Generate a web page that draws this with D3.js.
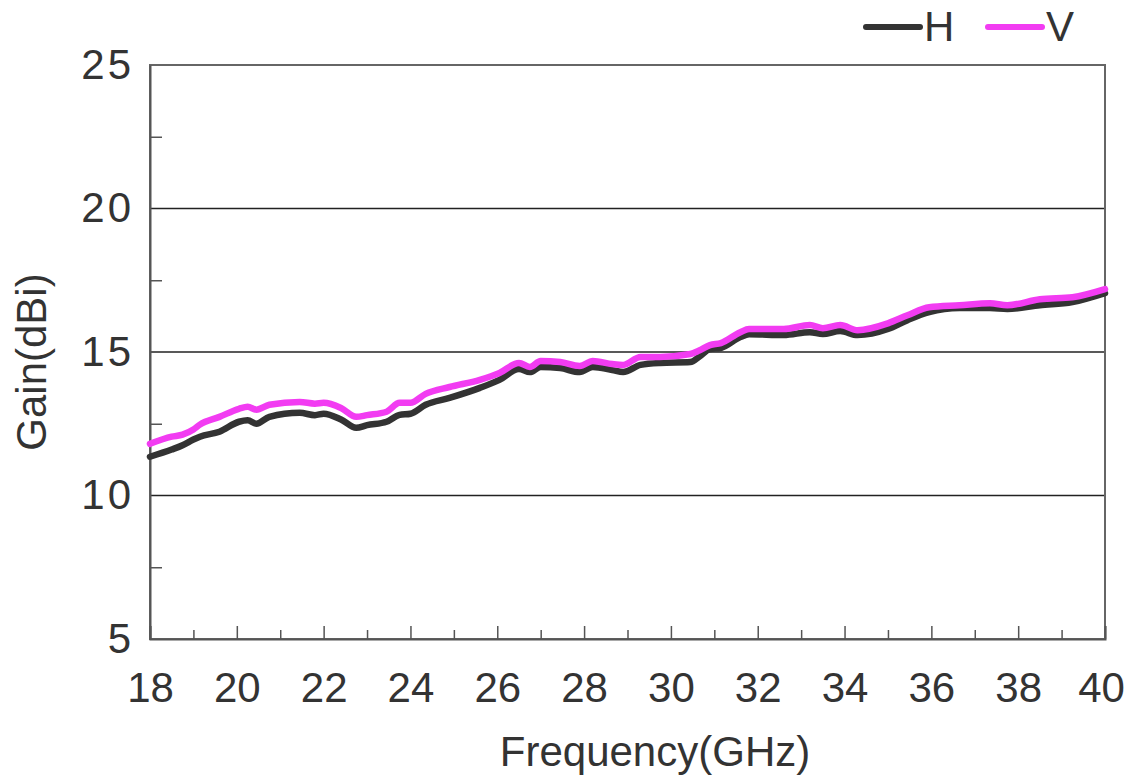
<!DOCTYPE html>
<html>
<head>
<meta charset="utf-8">
<title>Gain vs Frequency</title>
<script src="https://cdnjs.cloudflare.com/ajax/libs/d3/7.8.5/d3.min.js"></script>
<style>
  body { margin: 0; background: #fff; }
  svg text { font-family: "Liberation Sans", Arial, sans-serif; fill: #333; }
</style>
</head>
<body>
<div id="chart"></div>
<script>
// frequency (GHz) and gain (dBi)
const freq = [18.0, 18.5, 18.75, 19.0, 19.15, 19.6, 20.05, 20.25, 20.45, 20.75, 21.45, 21.8, 22.0, 22.4, 22.75,
  23.0, 23.45, 23.75, 24.0, 24.35, 24.9, 25.6, 26.05, 26.5, 26.75, 27.0, 27.45, 27.9, 28.2, 28.65, 28.9,
  29.3, 29.75, 30.45, 30.65, 30.9, 31.15, 31.6, 31.8, 32.6, 33.2, 33.5, 33.9, 34.3, 35.0, 35.45, 35.95,
  36.65, 37.35, 37.75, 38.5, 39.25, 40.0];
const gainH = [11.35, 11.6, 11.75, 11.95, 12.05, 12.22, 12.57, 12.62, 12.5, 12.74, 12.88, 12.8, 12.85, 12.65, 12.36,
  12.45, 12.57, 12.81, 12.85, 13.16, 13.4, 13.75, 14.03, 14.41, 14.3, 14.48, 14.44, 14.3, 14.48, 14.37, 14.3,
  14.55, 14.62, 14.65, 14.83, 15.1, 15.14, 15.52, 15.62, 15.59, 15.69, 15.63, 15.73, 15.59, 15.8, 16.11, 16.39,
  16.53, 16.53, 16.5, 16.63, 16.74, 17.05];
const gainV = [11.8, 12.05, 12.12, 12.3, 12.47, 12.74, 13.02, 13.09, 12.99, 13.16, 13.26, 13.2, 13.23, 13.05, 12.74,
  12.8, 12.92, 13.23, 13.23, 13.54, 13.78, 14.03, 14.27, 14.62, 14.48, 14.69, 14.65, 14.51, 14.69, 14.58, 14.55,
  14.83, 14.83, 14.93, 15.05, 15.24, 15.31, 15.69, 15.8, 15.8, 15.94, 15.83, 15.94, 15.76, 16.0, 16.28, 16.56,
  16.63, 16.7, 16.63, 16.84, 16.91, 17.19];
const xTicks = [18, 20, 22, 24, 26, 28, 30, 32, 34, 36, 38, 40];
const xMinor = [19, 21, 23, 25, 27, 29, 31, 33, 35, 37, 39];
const yTicks = [5, 10, 15, 20, 25];
const yMinor = [7.5, 12.5, 17.5, 22.5];
const yGrid = [10, 15, 20];
const seriesNames = ["H", "V"];

const W = 1126, H = 778;
const margin = {top: 65, right: 21, bottom: 139, left: 150};
const w = W - margin.left - margin.right;
const h = H - margin.top - margin.bottom;

const svg = d3.select("#chart").append("svg")
  .attr("width", W).attr("height", H);
const g = svg.append("g")
  .attr("transform", "translate(" + margin.left + "," + margin.top + ")");

const x = d3.scaleLinear().domain([18, 40]).range([0, w]);
const y = d3.scaleLinear().domain([5, 25]).range([h, 0]);

// grid lines
g.selectAll(".grid").data(yGrid).enter().append("line")
  .attr("x1", 0).attr("x2", w)
  .attr("y1", d => y(d)).attr("y2", d => y(d))
  .attr("stroke", "#222").attr("stroke-width", 1.5);

// frame
g.append("rect").attr("width", w).attr("height", h)
  .attr("fill", "none").attr("stroke", "#666").attr("stroke-width", 2);

// x axis
const xAxis = g.append("g").attr("transform", "translate(0," + h + ")")
  .call(d3.axisBottom(x).tickValues(xTicks).tickSize(-13).tickPadding(33).tickFormat(d3.format("d")));
xAxis.select(".domain").attr("stroke", "#555").attr("stroke-width", 2);
xAxis.selectAll(".tick line").attr("stroke", "#555").attr("stroke-width", 1.5);
xAxis.selectAll("text").attr("font-size", 42).attr("fill", "#333")
  .attr("dx", d => d === 40 ? -4 : 0);

g.append("g").attr("transform", "translate(0," + h + ")")
  .call(d3.axisBottom(x).tickValues(xMinor).tickSize(-9).tickFormat(""))
  .call(a => a.select(".domain").remove())
  .selectAll(".tick line").attr("stroke", "#555").attr("stroke-width", 1.5);

// y axis
const yAxis = g.append("g")
  .call(d3.axisLeft(y).tickValues(yTicks).tickSize(0).tickPadding(16).tickFormat(d3.format("d")));
yAxis.select(".domain").attr("stroke", "#555").attr("stroke-width", 2);
yAxis.selectAll("text").attr("font-size", 42).attr("fill", "#333")
  .attr("letter-spacing", 3);

g.append("g")
  .call(d3.axisLeft(y).tickValues(yMinor).tickSize(-12).tickFormat(""))
  .call(a => a.select(".domain").remove())
  .selectAll(".tick line").attr("stroke", "#555").attr("stroke-width", 1.5);

// lines
const line = d3.line()
  .x((d, i) => x(freq[i]))
  .y(d => y(d))
  .curve(d3.curveMonotoneX);

const colors = {H: "#333333", V: "#f23cf2"};
[gainH, gainV].forEach((vals, k) => {
  g.append("path").datum(vals)
    .attr("d", line)
    .attr("fill", "none")
    .attr("stroke", colors[seriesNames[k]])
    .attr("stroke-width", 6.5)
    .attr("stroke-linejoin", "round")
    .attr("stroke-linecap", "round");
});

// axis titles
svg.append("text")
  .attr("x", 655).attr("y", 766)
  .attr("text-anchor", "middle").attr("font-size", 42)
  .text("Frequency(GHz)");

svg.append("text")
  .attr("transform", "translate(46,362) rotate(-90)")
  .attr("text-anchor", "middle").attr("font-size", 42)
  .text("Gain(dBi)");

// legend
const legend = svg.append("g");
const legX = [866, 988];
seriesNames.forEach((name, i) => {
  legend.append("line")
    .attr("x1", legX[i]).attr("x2", legX[i] + 54)
    .attr("y1", 27).attr("y2", 27)
    .attr("stroke", colors[name]).attr("stroke-width", 6)
    .attr("stroke-linecap", "round");
  legend.append("text")
    .attr("x", legX[i] + 58).attr("y", 41)
    .attr("font-size", 42)
    .text(name);
});
</script>
</body>
</html>
